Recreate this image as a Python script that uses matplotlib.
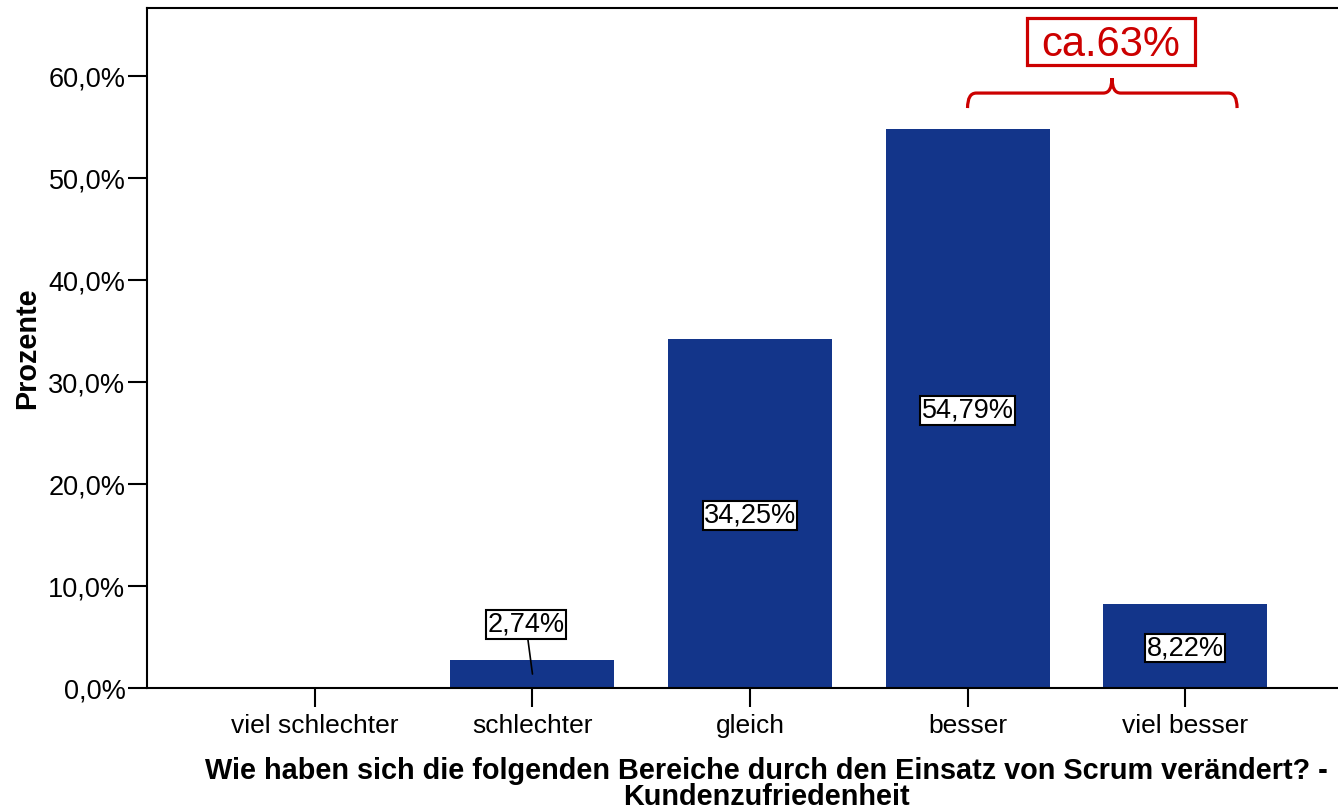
import matplotlib
matplotlib.use('Agg')
import matplotlib.pyplot as plt
from matplotlib.path import Path
from matplotlib.patches import PathPatch, Rectangle

plt.rcParams['font.family'] = ['Liberation Sans', 'DejaVu Sans']

# Daten
categories = ['viel schlechter', 'schlechter', 'gleich', 'besser', 'viel besser']
percent = [0.0, 2.74, 34.25, 54.79, 8.22]
value_labels = ['', '2,74%', '34,25%', '54,79%', '8,22%']
yticks = [0, 10, 20, 30, 40, 50, 60]
ytick_labels = ['0,0%', '10,0%', '20,0%', '30,0%', '40,0%', '50,0%', '60,0%']

BAR_COLOR = '#13358a'
RED = '#cc0000'

fig = plt.figure(figsize=(13.38, 8.09), dpi=100)
ax = fig.add_axes([147 / 1338, 121 / 809, 1 - 147 / 1338, 680 / 809])

x = list(range(len(categories)))
ax.bar(x, percent, width=0.754, color=BAR_COLOR, zorder=2)

ax.set_xlim(-0.772, 4.703)
ax.set_ylim(0, 66.67)
ax.set_xticks(x)
ax.set_xticklabels(categories, fontsize=19)
ax.set_yticks(yticks)
ax.set_yticklabels(ytick_labels, fontsize=19.5)
ax.tick_params(axis='both', length=13.5, width=1.5, direction='out', pad=2)
ax.tick_params(axis='x', pad=5)
for side in ['left', 'bottom', 'top']:
    ax.spines[side].set_linewidth(1.5)
ax.spines['right'].set_visible(False)

ax.set_ylabel('Prozente', fontsize=20.8, fontweight='bold', labelpad=5)
ax.set_xlabel('Wie haben sich die folgenden Bereiche durch den Einsatz von Scrum verändert? -\n'
              'Kundenzufriedenheit', fontsize=20.8, fontweight='bold',
              linespacing=0.9)
ax.xaxis.set_label_coords(0.52, -0.102)

box = dict(boxstyle='square,pad=0.05', facecolor='white', edgecolor='black', linewidth=1.5)
for xi, v, lab in zip(x, percent, value_labels):
    if not lab:
        continue
    if v < 5:
        # kleiner Balken: Beschriftung oberhalb mit Linie
        ax.annotate(lab, xy=(xi, v / 2), xytext=(xi - 0.03, v / 2 + 4.85),
                    ha='center', va='center', fontsize=19.5, bbox=box,
                    arrowprops=dict(arrowstyle='-', color='black', lw=1.2,
                                    shrinkA=0, shrinkB=0), zorder=4)
    else:
        ax.text(xi, v / 2 - 0.2, lab, ha='center', va='center', fontsize=19.5,
                bbox=box, zorder=4)

# geschweifte Klammer über "besser" + "viel besser"
x0, x1, xm = 3.0, 4.239, 3.664
yb, yh, yt = 56.86, 58.33, 59.8
rx = 0.04
verts = [(x0, yb), (x0, yh), (x0 + rx, yh),
         (xm - rx, yh), (xm, yh), (xm, yt),
         (xm, yh), (xm + rx, yh),
         (x1 - rx, yh), (x1, yh), (x1, yb)]
codes = [Path.MOVETO, Path.CURVE3, Path.CURVE3,
         Path.LINETO, Path.CURVE3, Path.CURVE3,
         Path.CURVE3, Path.CURVE3,
         Path.LINETO, Path.CURVE3, Path.CURVE3]
ax.add_patch(PathPatch(Path(verts, codes), facecolor='none', edgecolor=RED,
                       linewidth=2.3, capstyle='butt', zorder=5))
ax.add_patch(Rectangle((3.274, 61.08), 0.772, 4.61, facecolor='white',
                       edgecolor=RED, linewidth=2.3, zorder=5))
ax.text(xm - 0.005, 63.0, 'ca.63%', color=RED, fontsize=30, ha='center', va='center',
        zorder=6)

fig.savefig('out.png', dpi=100, facecolor='white')
